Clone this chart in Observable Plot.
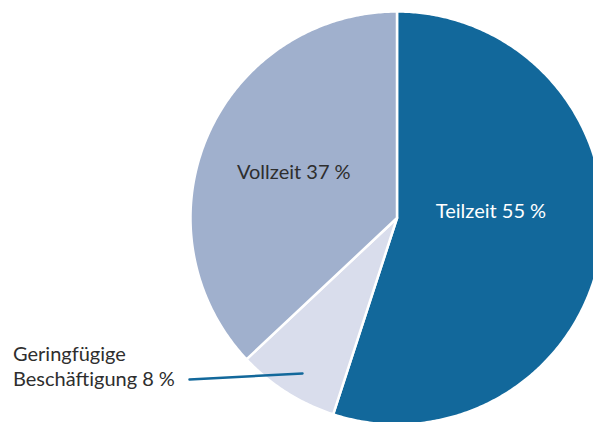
<!DOCTYPE html>
<html>
<head>
<meta charset="utf-8">
<script src="https://cdn.jsdelivr.net/npm/d3@7"></script>
<script src="https://cdn.jsdelivr.net/npm/@observablehq/plot@0.6"></script>
<style>
html,body{margin:0;padding:0;background:#fff;}
#chart{width:593px;height:422px;overflow:hidden;}
</style>
</head>
<body>
<div id="chart"></div>
<script>
const categories = ["Teilzeit", "Geringfügige Beschäftigung", "Vollzeit"];
const shares = [55, 8, 37];
const labels = ["Teilzeit 55\u202F%", "Geringfügige\nBeschäftigung 8\u202F%", "Vollzeit 37\u202F%"];
const colors = ["#12689b", "#d9ddec", "#a0b0cd"];

const W = 593, H = 422;
const cx = 396.5, cy = 217.5, R = 206.5;

// build slice polygons from the shares (angles clockwise from top)
const total = d3.sum(shares);
const pts = [];
let start = 0;
categories.forEach((c, i) => {
  const a0 = start / total * 2 * Math.PI;
  const a1 = (start + shares[i]) / total * 2 * Math.PI;
  start += shares[i];
  const n = Math.max(8, Math.ceil((a1 - a0) / 0.01));
  pts.push({cat: c, x: 0, y: 0});
  for (let k = 0; k <= n; k++) {
    const a = a0 + (a1 - a0) * k / n;
    pts.push({cat: c, x: Math.sin(a), y: Math.cos(a)});
  }
  pts.push({cat: c, x: 0, y: 0});
});

const xDomain = [-cx / R, (W - cx) / R];
const yDomain = [-(H - cy) / R, cy / R];

const labelPos = [
  {x: 0.455, y: 0.03, text: labels[0], fill: "#ffffff"},
  {x: -0.5, y: 0.22, text: labels[2], fill: "#2e2e2e"}
];
const annText = [{x: -384 / R, y: -(365 - cy) / R, text: labels[1]}];
const leader = [
  {x: (189 - cx) / R, y: (cy - 379) / R},
  {x: (302 - cx) / R, y: (cy - 373) / R}
];

const plot = Plot.plot({
  width: W, height: H,
  margin: 0,
  x: {domain: xDomain, axis: null},
  y: {domain: yDomain, axis: null},
  color: {domain: categories, range: colors},
  style: {fontFamily: "Lato, 'Open Sans', sans-serif", background: "#fff"},
  marks: [
    Plot.line(pts, {x: "x", y: "y", z: "cat", fill: "cat", stroke: "#ffffff", strokeWidth: 2.5, strokeLinejoin: "round", curve: "linear"}),
    Plot.text(labelPos, {x: "x", y: "y", text: "text", fill: "fill", fontSize: 20, textAnchor: "middle"}),
    Plot.text(annText, {x: "x", y: "y", text: "text", fill: "#2e2e2e", fontSize: 20, textAnchor: "start", lineHeight: 1.25}),
    Plot.line(leader, {x: "x", y: "y", stroke: "#12689b", strokeWidth: 2.5})
  ]
});
document.getElementById("chart").appendChild(plot);
</script>
</body>
</html>
